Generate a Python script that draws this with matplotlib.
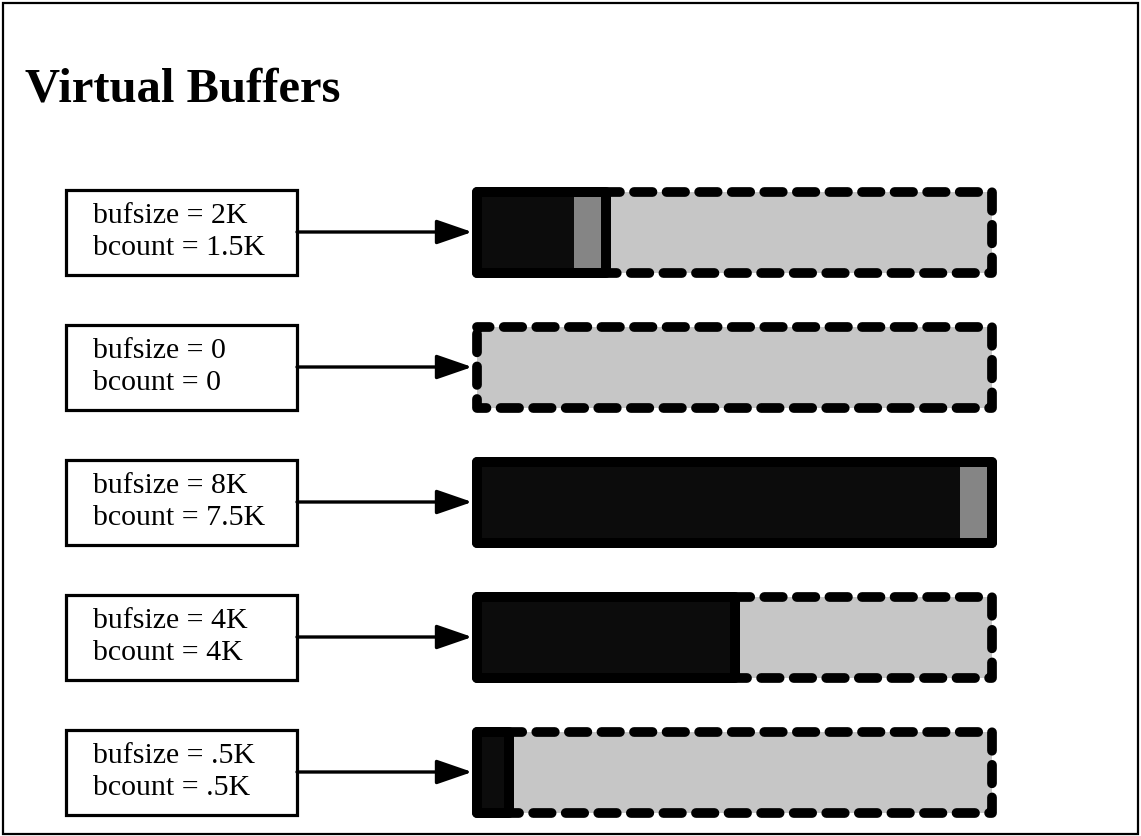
import matplotlib
matplotlib.use("Agg")
import matplotlib.pyplot as plt
from matplotlib.patches import Rectangle

# buffer rows, top to bottom (sizes in K)
bufsize = [2, 0, 8, 4, 0.5]
bcount = [1.5, 0, 7.5, 4, 0.5]
bufsize_labels = ["2K", "0", "8K", "4K", ".5K"]
bcount_labels = ["1.5K", "0", "7.5K", "4K", ".5K"]
max_size = 8

serif = ["Liberation Serif", "DejaVu Serif"]
W, H = 1141, 836

fig = plt.figure(figsize=(W / 100, H / 100), dpi=100)
fig.patch.set_facecolor("white")
ax = fig.add_axes([0, 0, 1, 1])
ax.set_axis_off()

# layout: 0K sits at pixel 477, 8K at 992, rows 135 px apart starting at 232
px_per_k = (992 - 477) / max_size
ax.set_xlim(-477 / px_per_k, (W - 477) / px_per_k)
row_px = 135
ax.set_ylim((H - 232) / row_px, -232 / row_px)

bar_h = 81 / row_px
box_h = 85 / row_px
box_left, box_right = 66 / W, 297 / W
text_x = 93 / W
ytrans = ax.get_yaxis_transform()

dark, medium, light = "#0c0c0c", "#858585", "#c6c6c6"

for i in range(len(bufsize)):
    top = i - bar_h / 2
    # unused space, dashed outline
    ax.add_patch(Rectangle((0, top), max_size, bar_h, facecolor=light,
                           edgecolor="none", zorder=1))
    ax.add_patch(Rectangle((0, top), max_size, bar_h, facecolor="none",
                           edgecolor="black", lw=7.0,
                           linestyle=(0.6, (1.9, 1.45)), capstyle="round",
                           joinstyle="round", zorder=2))
    if bufsize[i] > 0:
        ax.barh(i, bcount[i], height=bar_h, left=0, color=dark, zorder=3)
        if bufsize[i] > bcount[i]:
            ax.barh(i, bufsize[i] - bcount[i], height=bar_h, left=bcount[i],
                    color=medium, zorder=3)
        ax.add_patch(Rectangle((0, top), bufsize[i], bar_h, facecolor="none",
                               edgecolor="black", lw=7.2, joinstyle="round",
                               zorder=4))

    # label box
    ax.add_patch(Rectangle((box_left, i - box_h / 2), box_right - box_left,
                           box_h, transform=ytrans, facecolor="white",
                           edgecolor="black", lw=2.3, zorder=3))
    ax.text(text_x, i - 9 / row_px, f"bufsize = {bufsize_labels[i]}",
            transform=ytrans, family=serif, fontsize=21.5, va="baseline",
            ha="left", zorder=5)
    ax.text(text_x, i + 23 / row_px, f"bcount = {bcount_labels[i]}",
            transform=ytrans, family=serif, fontsize=21.5, va="baseline",
            ha="left", zorder=5)

    # arrow from box to buffer
    ax.annotate("", xy=(0, i), xycoords="data", xytext=(box_right, i),
                textcoords=ytrans,
                arrowprops=dict(arrowstyle="-|>,head_length=1.1,head_width=0.38",
                                mutation_scale=20, lw=2.4, color="black",
                                shrinkA=0, shrinkB=3.5),
                zorder=6)

fig.text(25 / W, 1 - 101 / H, "Virtual Buffers", family=serif,
         fontweight="bold", fontsize=35, va="baseline", ha="left")

# page frame
fig.patches.append(Rectangle((3 / W, 2 / H), (W - 6) / W, (H - 5) / H,
                             transform=fig.transFigure, facecolor="none",
                             edgecolor="black", lw=1.6))

fig.savefig("out.png", dpi=100)
